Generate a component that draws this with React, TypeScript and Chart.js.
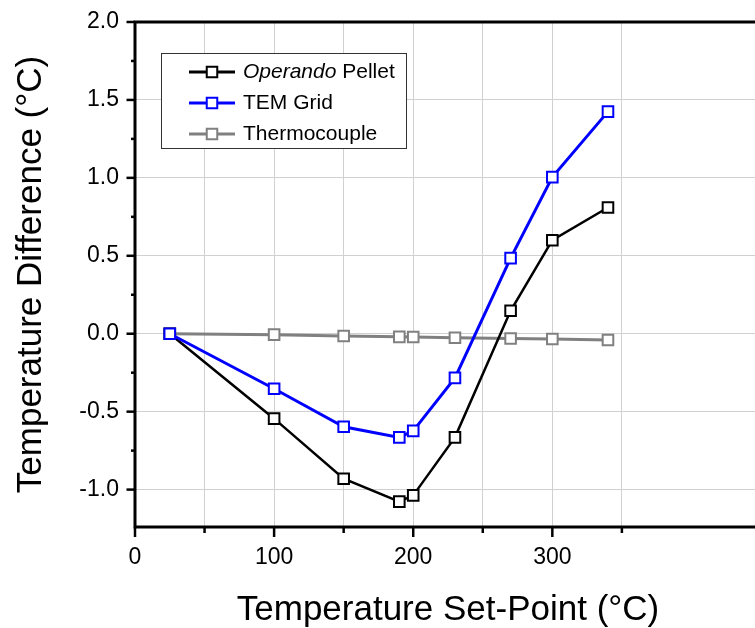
import React, { useEffect, useRef } from 'react';
import { Chart, registerables } from 'chart.js';

Chart.register(...registerables);

// ---- data ----
const setPoints = [25, 100, 150, 190, 200, 230, 270, 300, 340];
const operandoPellet = [0, -0.545, -0.93, -1.077, -1.037, -0.665, 0.147, 0.6, 0.81];
const temGrid = [0, -0.353, -0.597, -0.665, -0.623, -0.283, 0.485, 1.005, 1.425];
const thermocouple = [0, -0.006, -0.015, -0.02, -0.021, -0.026, -0.031, -0.034, -0.04];

const seriesLabels = ['Operando Pellet', 'TEM Grid', 'Thermocouple'];
const seriesItalicPrefix = ['Operando', '', ''];
const seriesColors = ['#000000', '#0000ff', '#808080'];
const seriesLineWidths = [2.5, 3, 3];
const seriesOrder = [1, 0, 2];

const xMajorTicks = [0, 100, 200, 300];
const xLastTick = 350;
const yMajorTicks = [-1.0, -0.5, 0.0, 0.5, 1.0, 1.5, 2.0];

const xTitle = 'Temperature Set-Point (\u00B0C)';
const yTitle = 'Temperature Difference (\u00B0C)';

const FONT = '"Liberation Sans", Arial, Helvetica, sans-serif';

const isMajor = (v: number, list: number[]) => list.some((m) => Math.abs(m - v) < 1e-6);

const decorPlugin = {
  id: 'decor',
  afterDraw(chart: any) {
    const { ctx, chartArea: a, scales } = chart;
    const x = scales.x;
    const y = scales.y;
    ctx.save();
    ctx.strokeStyle = '#000';
    ctx.lineCap = 'butt';
    ctx.lineWidth = 3;
    // axes lines
    ctx.beginPath();
    ctx.moveTo(a.left, a.top - 1.5);
    ctx.lineTo(a.left, a.bottom + 1.5);
    ctx.moveTo(a.left - 1.5, a.bottom);
    ctx.lineTo(chart.width, a.bottom);
    ctx.moveTo(a.left - 1.5, a.top);
    ctx.lineTo(chart.width, a.top);
    ctx.stroke();
    // x ticks
    ctx.lineWidth = 2.5;
    x.ticks.forEach((t: any) => {
      const px = x.getPixelForValue(t.value);
      const len = isMajor(t.value, xMajorTicks) ? 10 : 6;
      ctx.beginPath();
      ctx.moveTo(px, a.bottom);
      ctx.lineTo(px, a.bottom + len);
      ctx.stroke();
    });
    // y ticks
    y.ticks.forEach((t: any) => {
      const py = y.getPixelForValue(t.value);
      const len = isMajor(t.value, yMajorTicks) ? 8.5 : 4;
      ctx.beginPath();
      ctx.moveTo(a.left, py);
      ctx.lineTo(a.left - len, py);
      ctx.stroke();
    });

    // legend
    const bx = a.left + 26;
    const by = a.top + 31;
    const bw = 245;
    const bh = 95;
    ctx.fillStyle = '#fff';
    ctx.fillRect(bx, by, bw, bh);
    ctx.lineWidth = 1;
    ctx.strokeStyle = '#333';
    ctx.strokeRect(bx + 0.5, by + 0.5, bw, bh);
    const rowYs = [19, 50, 81];
    chart.data.datasets.forEach((ds: any, i: number) => {
      const ry = by + rowYs[i];
      ctx.strokeStyle = ds.borderColor;
      ctx.lineWidth = 3;
      ctx.beginPath();
      ctx.moveTo(bx + 28, ry);
      ctx.lineTo(bx + 74, ry);
      ctx.stroke();
      const s = 10.5;
      ctx.fillStyle = '#fff';
      ctx.fillRect(bx + 51 - s / 2, ry - s / 2, s, s);
      ctx.lineWidth = 2;
      ctx.strokeRect(bx + 51 - s / 2, ry - s / 2, s, s);
      ctx.fillStyle = '#000';
      ctx.textBaseline = 'middle';
      ctx.textAlign = 'left';
      let tx = bx + 82;
      const label: string = ds.label;
      const pre = seriesItalicPrefix[i];
      if (pre && label.startsWith(pre)) {
        ctx.font = 'italic 21px ' + FONT;
        ctx.fillText(pre, tx, ry);
        tx += ctx.measureText(pre).width;
        ctx.font = '21px ' + FONT;
        ctx.fillText(label.slice(pre.length), tx, ry);
      } else {
        ctx.font = '21px ' + FONT;
        ctx.fillText(label, tx, ry);
      }
    });
    ctx.restore();
  },
};

export default function App() {
  const ref = useRef<HTMLCanvasElement>(null);
  useEffect(() => {
    if (!ref.current) return;
    const series = [operandoPellet, temGrid, thermocouple];
    const chart = new Chart(ref.current, {
      type: 'line',
      data: {
        datasets: series.map((vals, i) => ({
          label: seriesLabels[i],
          data: setPoints.map((sp, j) => ({ x: sp, y: vals[j] })),
          borderColor: seriesColors[i],
          borderWidth: seriesLineWidths[i],
          pointStyle: 'rect',
          pointRadius: 7.5,
          pointBackgroundColor: '#fff',
          pointBorderColor: seriesColors[i],
          pointBorderWidth: 2,
          tension: 0,
          order: seriesOrder[i],
        })),
      },
      options: {
        responsive: false,
        animation: false,
        layout: { padding: { top: 22, right: 39, left: 0, bottom: 0 } },
        plugins: { legend: { display: false }, tooltip: { enabled: false } },
        scales: {
          x: {
            type: 'linear',
            min: 0,
            max: 450,
            afterFit: (s: any) => {
              s.height = 101;
              s.paddingLeft = 0;
              s.paddingRight = 0;
            },
            afterBuildTicks: (s: any) => {
              s.ticks = s.ticks.filter((t: any) => t.value <= xLastTick + 1e-6);
            },
            ticks: {
              stepSize: 50,
              autoSkip: false,
              maxRotation: 0,
              padding: 17,
              color: '#000',
              font: { family: FONT, size: 23 },
              callback: (v: any) => (isMajor(Number(v), xMajorTicks) ? String(v) : ''),
            },
            grid: {
              color: '#d0d0d0',
              lineWidth: 1,
              drawTicks: false,
            },
            border: { display: false },
            title: {
              display: true,
              text: xTitle,
              color: '#000',
              font: { family: FONT, size: 35 },
              padding: { top: 0, bottom: -3 },
            },
          },
          y: {
            type: 'linear',
            min: -1.24,
            max: 2.0,
            afterFit: (s: any) => {
              s.width = 135;
              s.paddingTop = 0;
              s.paddingBottom = 0;
            },
            ticks: {
              stepSize: 0.25,
              includeBounds: false,
              autoSkip: false,
              padding: 16,
              color: '#000',
              font: { family: FONT, size: 23 },
              callback: (v: any) => (isMajor(Number(v), yMajorTicks) ? Number(v).toFixed(1) : ''),
            },
            grid: {
              color: (c: any) =>
                c.tick && isMajor(c.tick.value, yMajorTicks) ? '#d0d0d0' : 'rgba(0,0,0,0)',
              lineWidth: 1,
              drawTicks: false,
            },
            border: { display: false },
            title: {
              display: true,
              text: yTitle,
              color: '#000',
              font: { family: FONT, size: 35 },
              padding: { top: 10, bottom: 0 },
            },
          },
        },
      },
      plugins: [decorPlugin],
    });
    return () => chart.destroy();
  }, []);

  return (
    <div
      style={{
        position: 'fixed',
        left: 0,
        top: 0,
        width: 755,
        height: 628,
        overflow: 'hidden',
        background: '#fff',
      }}
    >
      <canvas ref={ref} width={800} height={628} style={{ display: 'block', width: 800, height: 628 }} />
    </div>
  );
}
